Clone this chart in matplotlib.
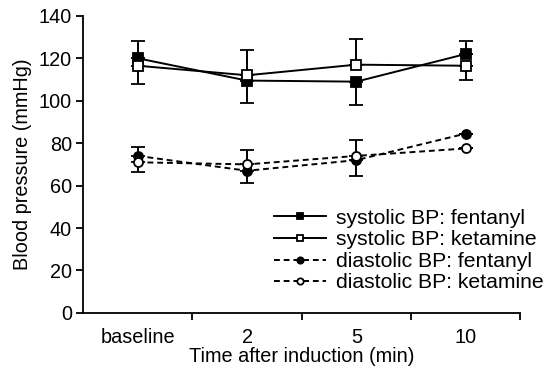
import numpy as np
import matplotlib
matplotlib.use("Agg")
import matplotlib.pyplot as plt

plt.rcParams['font.family'] = ['Liberation Sans', 'DejaVu Sans']

CATS = ["baseline", "2", "5", "10"]
SYS_FEN = [120, 109.5, 109, 122]
SYS_KET = [116.5, 112, 117, 116.5]
DIA_FEN = [74, 67, 72, 84.5]
DIA_KET = [71, 70, 74, 77.5]
# one-sided error bars (lower, upper) as drawn in the figure
SYS_FEN_ERR = ([0, 10.5, 11, 0], [8, 0, 0, 6])
SYS_KET_ERR = ([8.5, 0, 0, 6.5], [0, 12, 12, 0])
DIA_FEN_ERR = ([0, 6, 7.5, 0], [4, 0, 0, 0])
DIA_KET_ERR = ([4.5, 0, 0, 0], [0, 7, 7.5, 0])

FS = 14.3
x = np.arange(len(CATS))
fig = plt.figure(figsize=(5.47, 3.69), dpi=100)
ax = fig.add_axes([0.152, 0.152, 0.799, 0.805])

series = [
    (SYS_FEN, SYS_FEN_ERR, "s", "k", "-", "systolic BP: fentanyl"),
    (SYS_KET, SYS_KET_ERR, "s", "w", "-", "systolic BP: ketamine"),
    (DIA_FEN, DIA_FEN_ERR, "o", "k", (0, (3, 2)), "diastolic BP: fentanyl"),
    (DIA_KET, DIA_KET_ERR, "o", "w", (0, (3, 2)), "diastolic BP: ketamine"),
]
for y, err, mk, fc, ls, lab in series:
    ax.errorbar(x, y, yerr=np.array(err), color="k", lw=1.4, ls=ls, marker=mk,
                ms=6.5, mfc=fc, mec="k", mew=1.3, capsize=5, capthick=1.4,
                elinewidth=1.4, label=lab)

ax.set_xlim(-0.5, 3.5)
ax.set_ylim(0, 140)
ax.set_yticks(range(0, 141, 20))
ax.set_xticks(x)
ax.set_xticklabels(CATS)
ax.set_xticks(np.arange(0.5, 3.6, 1), minor=True)
ax.tick_params(axis="x", which="major", length=0, labelsize=FS, pad=11)
ax.tick_params(axis="x", which="minor", length=5, width=1.3, direction="out")
ax.tick_params(axis="y", length=5, width=1.3, labelsize=FS, pad=3)
for s in ["top", "right"]:
    ax.spines[s].set_visible(False)
for s in ["left", "bottom"]:
    ax.spines[s].set_linewidth(1.3)
ax.set_ylabel("Blood pressure (mmHg)", fontsize=FS, labelpad=5)
ax.set_xlabel("Time after induction (min)", fontsize=FS, labelpad=0)

h, l = ax.get_legend_handles_labels()
h = [hh[0] for hh in h]
ax.legend(h, l, loc="lower right", bbox_to_anchor=(1.097, 0.005), frameon=False,
          fontsize=15.2, handlelength=2.5, handletextpad=0.45, labelspacing=0.12,
          markerscale=0.7)

fig.savefig("out.png", dpi=100)
